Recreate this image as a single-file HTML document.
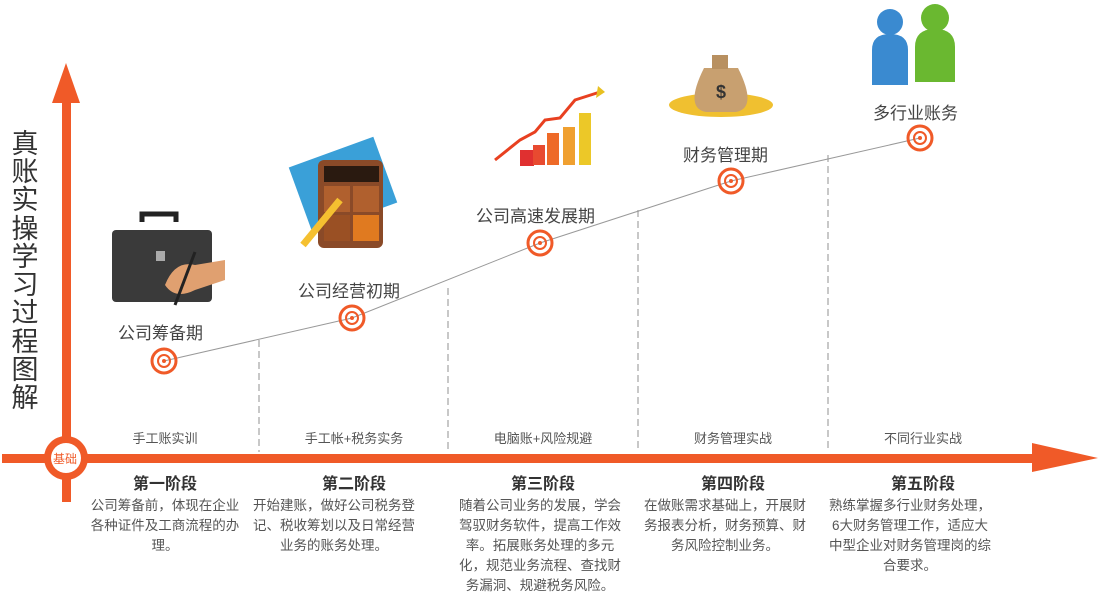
<!DOCTYPE html>
<html><head><meta charset="utf-8"><style>
body{margin:0;width:1098px;height:606px;background:#fff;position:relative;overflow:hidden;font-family:"Liberation Sans","Noto Sans CJK SC",sans-serif;}
.a{position:absolute;}
.lbl{position:absolute;font-size:17px;color:#444;white-space:nowrap;}
.sm{position:absolute;font-size:13px;color:#555;text-align:center;width:190px;}
.h{position:absolute;font-size:16px;font-weight:bold;color:#333;text-align:center;width:190px;}
.d{position:absolute;font-size:13.5px;color:#555;text-align:center;line-height:20px;word-break:break-all;}
</style></head><body>
<svg class="a" style="left:0;top:0" width="1098" height="606">
 <g stroke="#c8c8c8" stroke-width="2" stroke-dasharray="7,4">
  <line x1="259" y1="340" x2="259" y2="452"/>
  <line x1="448" y1="288" x2="448" y2="452"/>
  <line x1="638" y1="210" x2="638" y2="452"/>
  <line x1="828" y1="155" x2="828" y2="452"/>
 </g>
 <polyline points="164,361 352,318 540,243 731,181 920,138" fill="none" stroke="#999" stroke-width="1"/>
 <rect x="2" y="454" width="1040" height="9" fill="#f05a28"/>
 <polygon points="1032,443 1098,458 1032,472" fill="#f05a28"/>
 <rect x="62" y="100" width="9" height="402" fill="#f05a28"/>
 <polygon points="52,103 66,63 80,103" fill="#f05a28"/>
 <circle cx="66" cy="458" r="22" fill="#f05a28"/>
 <circle cx="66" cy="458" r="15" fill="#fff"/>
 <g fill="none" stroke="#f05a28" stroke-width="3">
  <circle cx="164" cy="361" r="12"/><circle cx="352" cy="318" r="12"/><circle cx="540" cy="243" r="12"/><circle cx="731" cy="181" r="12"/><circle cx="920" cy="138" r="12"/>
  <circle cx="164" cy="361" r="6" stroke-width="2"/><circle cx="352" cy="318" r="6" stroke-width="2"/><circle cx="540" cy="243" r="6" stroke-width="2"/><circle cx="731" cy="181" r="6" stroke-width="2"/><circle cx="920" cy="138" r="6" stroke-width="2"/>
 </g>
 <g fill="#f05a28"><circle cx="164" cy="361" r="2"/><circle cx="352" cy="318" r="2"/><circle cx="540" cy="243" r="2"/><circle cx="731" cy="181" r="2"/><circle cx="920" cy="138" r="2"/></g>
 <g font-size="27" fill="#333" text-anchor="middle" font-family="Liberation Sans, Noto Sans CJK SC, sans-serif">
  <text x="25" y="153">真</text><text x="25" y="181">账</text><text x="25" y="209">实</text><text x="25" y="238">操</text><text x="25" y="266">学</text><text x="25" y="294">习</text><text x="25" y="322">过</text><text x="25" y="351">程</text><text x="25" y="379">图</text><text x="25" y="407">解</text>
 </g>
 <!-- briefcase -->
 <path d="M142 222 v-8 h34 v8" fill="none" stroke="#222" stroke-width="5"/>
 <rect x="112" y="230" width="100" height="72" rx="4" fill="#3a3a3a"/>
 <rect x="156" y="251" width="9" height="10" fill="#aaa"/>
 <path d="M165 285 q10 -25 30 -20 l30 -5 v20 l-30 10 q-20 10 -30 -5z" fill="#e0a070"/>
 <line x1="195" y1="252" x2="175" y2="305" stroke="#222" stroke-width="3"/>
 <!-- calculator -->
 <rect x="298" y="150" width="90" height="70" fill="#3aa0d8" transform="rotate(-20 343 185)"/>
 <rect x="318" y="160" width="65" height="88" rx="6" fill="#8a4a28"/>
 <rect x="324" y="166" width="55" height="16" fill="#2a1a10"/>
 <rect x="324" y="186" width="26" height="26" fill="#b0602e"/><rect x="353" y="186" width="26" height="26" fill="#b0602e"/>
 <rect x="324" y="215" width="26" height="26" fill="#9a5024"/><rect x="353" y="215" width="26" height="26" fill="#e07a20"/>
 <line x1="303" y1="245" x2="340" y2="200" stroke="#f5c030" stroke-width="7"/>
 <!-- chart -->
 <rect x="520" y="150" width="14" height="16" fill="#e03030"/><rect x="533" y="145" width="12" height="20" fill="#e84a30"/>
 <rect x="547" y="133" width="12" height="32" fill="#ee6a28"/><rect x="563" y="127" width="12" height="38" fill="#f0a030"/><rect x="579" y="113" width="12" height="52" fill="#ecc828"/>
 <polyline points="495,160 520,140 535,132 545,120 560,118 575,100 600,92" fill="none" stroke="#e84020" stroke-width="3"/>
 <polygon points="598,86 605,92 596,98" fill="#e8c020"/>
 <!-- money bag -->
 <ellipse cx="721" cy="105" rx="52" ry="12" fill="#f0c030"/>
 <path d="M704 68 q-20 40 2 44 h30 q22 -4 2 -44z" fill="#c8a070"/>
 <rect x="712" y="55" width="16" height="14" fill="#b89060"/>
 <text x="721" y="98" font-size="18" font-weight="bold" text-anchor="middle" fill="#333">$</text>
 <!-- people -->
 <circle cx="890" cy="22" r="13" fill="#3a8ad0"/><path d="M872 85 v-35 q0 -16 18 -16 q18 0 18 16 v35z" fill="#3a8ad0"/>
 <circle cx="935" cy="18" r="14" fill="#6ab830"/><path d="M915 82 v-35 q0 -18 20 -18 q20 0 20 18 v35z" fill="#6ab830"/>
</svg>
<div class="a" style="left:53px;top:450px;font-size:12px;color:#f05a28;">基础</div>
<div class="lbl" style="left:118px;top:319px;">公司筹备期</div>
<div class="lbl" style="left:298px;top:277px;">公司经营初期</div>
<div class="lbl" style="left:476px;top:202px;">公司高速发展期</div>
<div class="lbl" style="left:683px;top:141px;">财务管理期</div>
<div class="lbl" style="left:873px;top:99px;">多行业账务</div>
<div class="sm" style="left:70px;top:428px;">手工账实训</div>
<div class="sm" style="left:259px;top:428px;">手工帐+税务实务</div>
<div class="sm" style="left:448px;top:428px;">电脑账+风险规避</div>
<div class="sm" style="left:638px;top:428px;">财务管理实战</div>
<div class="sm" style="left:828px;top:428px;">不同行业实战</div>
<div class="h" style="left:70px;top:470px;">第一阶段</div>
<div class="h" style="left:259px;top:470px;">第二阶段</div>
<div class="h" style="left:448px;top:470px;">第三阶段</div>
<div class="h" style="left:638px;top:470px;">第四阶段</div>
<div class="h" style="left:828px;top:470px;">第五阶段</div>
<div class="d" style="left:85px;top:496px;width:160px;">公司筹备前，体现在企业各种证件及工商流程的办理。</div>
<div class="d" style="left:253px;top:496px;width:162px;">开始建账，做好公司税务登记、税收筹划以及日常经营业务的账务处理。</div>
<div class="d" style="left:457px;top:496px;width:166px;">随着公司业务的发展，学会驾驭财务软件，提高工作效率。拓展账务处理的多元化，规范业务流程、查找财务漏洞、规避税务风险。</div>
<div class="d" style="left:644px;top:496px;width:162px;">在做账需求基础上，开展财务报表分析，财务预算、财务风险控制业务。</div>
<div class="d" style="left:827px;top:496px;width:166px;">熟练掌握多行业财务处理，6大财务管理工作，适应大中型企业对财务管理岗的综合要求。</div>
</body></html>
